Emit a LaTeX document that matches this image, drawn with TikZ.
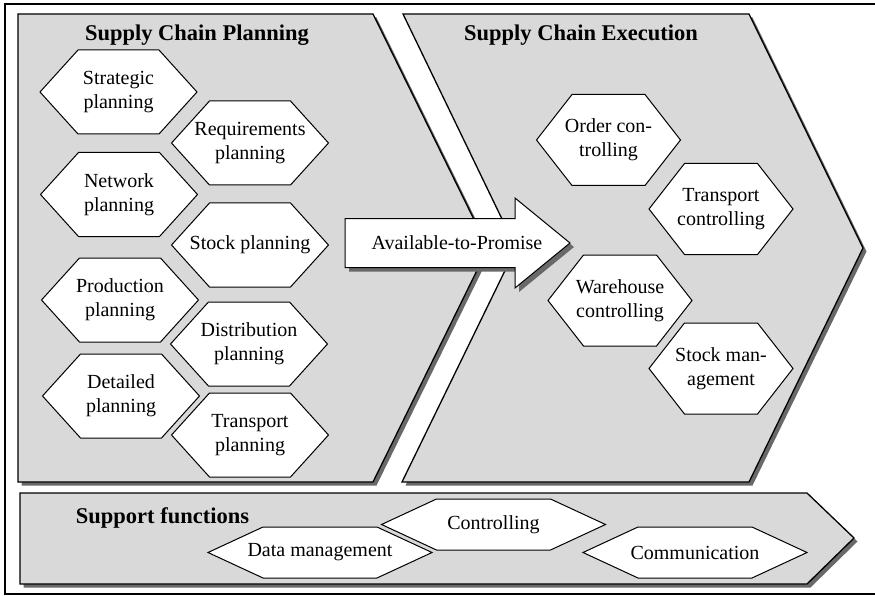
\documentclass[tikz,border=0pt]{standalone}
\usepackage{fontspec}
\setmainfont{Liberation Serif}
\usepackage{tikz}
\usetikzlibrary{shadows}
\definecolor{panelgray}{RGB}{217,217,217}
\definecolor{shade}{RGB}{105,105,105}

\begin{document}
\begin{tikzpicture}[x=1pt, y=-1pt, every node/.style={font=\fontsize{20}{24}\selectfont, align=center},
      panel/.style={draw=black, fill=panelgray, line width=1.3pt,
                    drop shadow={shadow xshift=3.5pt, shadow yshift=-3.5pt, fill=shade, opacity=1}},
      title/.style={font=\fontsize{22.5}{27}\selectfont\bfseries},
      hexline/.style={draw=black, fill=white, line width=1pt}]
    \useasboundingbox (0,0) rectangle (875,596);
    % outer frame
    \draw[line width=1.2pt] (880,4) -- (5,4) -- (5,594) -- (880,594);
    % the three areas
    \path[panel] (18,14) -- (373,14) -- (488,248) -- (373,482) -- (18,482) -- cycle;
    \path[panel] (403,14) -- (749,14) -- (863,248) -- (749,482) -- (402,482) -- (516,248) -- cycle;
    \path[panel] (20,493) -- (807,493) -- (854,538) -- (807,584) -- (20,584) -- cycle;
    \node[title] (plan) at (197,35) {Supply Chain Planning};
    \node[title] (exec) at (581,35) {Supply Chain Execution};
    \node[title] (supp) at (162.5,518) {Support functions};

    % planning: half width 78.5, half height 42, slant 38
    \foreach \n/\x/\y/\t in {strat/118.5/92/{Strategic\\planning}, req/250/143/{Requirements\\planning},
        net/119/194.5/{Network\\planning}, stockp/250/245/{Stock planning},
        prod/120/300/{Production\\planning}, dist/249/344/{Distribution\\planning},
        detail/121/396/{Detailed\\planning}, transp/250/435/{Transport\\planning}} {
      \draw[hexline] (\x-78.5,\y) -- (\x-40.5,\y-42) -- (\x+40.5,\y-42) -- (\x+78.5,\y)
        -- (\x+40.5,\y+42) -- (\x-40.5,\y+42) -- cycle;
      \node (\n) at (\x,\y) {\t};
    }

    % available-to-promise
    \path[draw=black, fill=white, line width=1pt,
          drop shadow={shadow xshift=4pt, shadow yshift=-4pt, fill=shade, opacity=1}]
      (345,218.5) -- (515,218.5) -- (515,198) -- (570,243) -- (515,288) -- (515,267.5) -- (345,267.5) -- cycle;
    \node (atp) at (457,243) {Available-to-Promise};

    % execution: half width 72, half height 45.5, slant 35.5
    \foreach \n/\x/\y/\t in {order/608.5/140/{Order con-\\trolling}, transc/721/209/{Transport\\controlling},
        wareh/620/300.5/{Warehouse\\controlling}, stockm/721/368.5/{Stock man-\\agement}} {
      \draw[hexline] (\x-72,\y) -- (\x-36.5,\y-45.5) -- (\x+36.5,\y-45.5) -- (\x+72,\y)
        -- (\x+36.5,\y+45.5) -- (\x-36.5,\y+45.5) -- cycle;
      \node (\n) at (\x,\y) {\t};
    }

    % support: half width 112, half height 25.5, slant 55
    \foreach \n/\x/\y/\t in {data/320/552.5/{Data management}, ctrl/493.5/524.5/{Controlling},
        comm/695/552.5/{Communication}} {
      \draw[hexline] (\x-112,\y) -- (\x-57,\y-25.5) -- (\x+57,\y-25.5) -- (\x+112,\y)
        -- (\x+57,\y+25.5) -- (\x-57,\y+25.5) -- cycle;
      \node (\n) at (\x,\y) {\t};
    }
  \end{tikzpicture}
\end{document}
